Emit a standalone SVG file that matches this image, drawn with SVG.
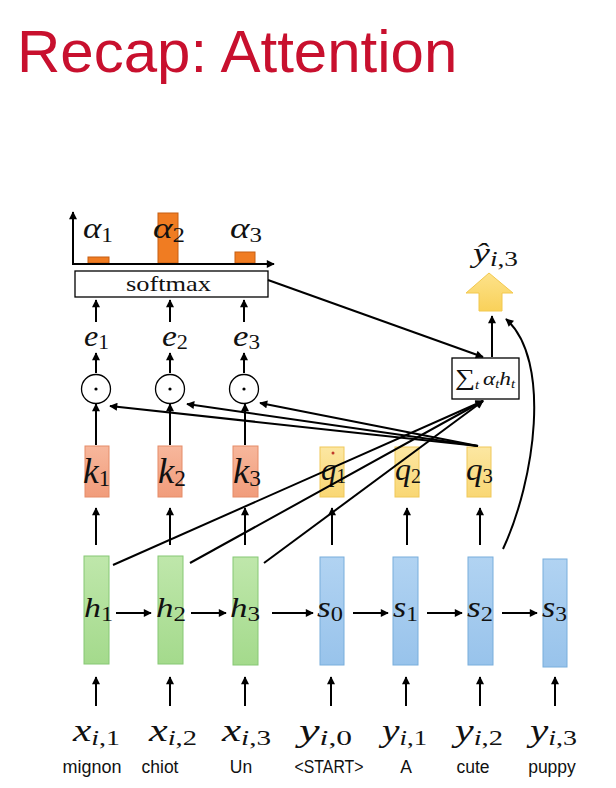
<svg xmlns="http://www.w3.org/2000/svg" width="616" height="788" viewBox="0 0 616 788">
<style>
.m{font-family:"Liberation Serif","DejaVu Serif",serif;font-style:italic;fill:#111}
.up{font-style:normal}
.w{font-family:"Liberation Sans",Arial,sans-serif;font-size:17.5px;fill:#111;text-anchor:middle}
.ln{stroke:#000;stroke-width:2;fill:none}
.ar{stroke:#000;stroke-width:2;fill:none;marker-end:url(#ah)}
.hb{fill:url(#gG);stroke:#86c874;stroke-width:1}
.sb{fill:url(#gB);stroke:#78aedc;stroke-width:1}
.kb{fill:url(#gK);stroke:#e58c68;stroke-width:1}
.qb{fill:url(#gY);stroke:#efc85a;stroke-width:1}
.bar{fill:#f07c22;stroke:#c65e12;stroke-width:1}
.op{fill:#fff;stroke:#000;stroke-width:1.3}
</style>
<defs>
<marker id="ah" viewBox="0 0 10 10" refX="9" refY="5" markerWidth="10" markerHeight="8" markerUnits="userSpaceOnUse" orient="auto"><path d="M0,0 L10,5 L0,10 z" fill="#000"/></marker>
<linearGradient id="gG" x1="0" y1="0" x2="0" y2="1"><stop offset="0" stop-color="#bfe7ab"/><stop offset="1" stop-color="#a4da8c"/></linearGradient>
<linearGradient id="gB" x1="0" y1="0" x2="0" y2="1"><stop offset="0" stop-color="#b1d3f2"/><stop offset="1" stop-color="#98c3eb"/></linearGradient>
<linearGradient id="gK" x1="0" y1="0" x2="0" y2="1"><stop offset="0" stop-color="#f7b79c"/><stop offset="1" stop-color="#f19c7b"/></linearGradient>
<linearGradient id="gY" x1="0" y1="0" x2="0" y2="1"><stop offset="0" stop-color="#fce7a2"/><stop offset="1" stop-color="#f9d774"/></linearGradient>
<linearGradient id="gA" x1="0" y1="0" x2="0" y2="1"><stop offset="0" stop-color="#fde28a"/><stop offset="1" stop-color="#f9d15a"/></linearGradient>
</defs>
<rect width="616" height="788" fill="#fff"/>
<text id="title" x="17" y="72" font-family="Liberation Sans, Arial, sans-serif" font-size="60" fill="#c8102e">Recap: Attention</text>

<g id="alpha-chart">
<rect class="bar" x="88" y="257" width="21" height="6"/>
<rect class="bar" x="158" y="213" width="20" height="50"/>
<rect class="bar" x="235" y="252" width="20" height="11"/>
<line class="ar" x1="73" y1="264" x2="73" y2="212"/>
<line class="ar" x1="72" y1="264" x2="274" y2="264"/>
<text class="m" x="83" y="238" font-size="30" textLength="30" lengthAdjust="spacingAndGlyphs">α<tspan class="up" font-size="20" dy="4">1</tspan></text>
<text class="m" x="153" y="238" font-size="30" textLength="32" lengthAdjust="spacingAndGlyphs">α<tspan class="up" font-size="20" dy="4">2</tspan></text>
<text class="m" x="230" y="238" font-size="30" textLength="32" lengthAdjust="spacingAndGlyphs">α<tspan class="up" font-size="20" dy="4">3</tspan></text>
</g>

<g id="softmax">
<rect x="75" y="271" width="193" height="26" fill="#fff" stroke="#000" stroke-width="1.3"/>
<text x="126" y="291" font-family="Liberation Serif, serif" font-size="22" textLength="85" lengthAdjust="spacingAndGlyphs" fill="#111">softmax</text>
</g>

<g id="e1"><text class="m" x="84" y="346" font-size="30" textLength="25" lengthAdjust="spacingAndGlyphs">e<tspan class="up" font-size="20" dy="3">1</tspan></text></g>
<g id="e2"><text class="m" x="162" y="346" font-size="30" textLength="26" lengthAdjust="spacingAndGlyphs">e<tspan class="up" font-size="20" dy="3">2</tspan></text></g>
<g id="e3"><text class="m" x="233" y="346" font-size="30" textLength="27" lengthAdjust="spacingAndGlyphs">e<tspan class="up" font-size="20" dy="3">3</tspan></text></g>

<g id="dot1"><circle class="op" cx="96" cy="389" r="14.5"/><circle cx="96" cy="389" r="1.6" fill="#000"/></g>
<g id="dot2"><circle class="op" cx="170" cy="389" r="14.5"/><circle cx="170" cy="389" r="1.6" fill="#000"/></g>
<g id="dot3"><circle class="op" cx="244" cy="389" r="14.5"/><circle cx="244" cy="389" r="1.6" fill="#000"/></g>

<g id="k1"><rect class="kb" x="85" y="446" width="24" height="51"/><text class="m" x="83" y="483" font-size="36" textLength="27" lengthAdjust="spacingAndGlyphs">k<tspan class="up" font-size="23" dy="3">1</tspan></text></g>
<g id="k2"><rect class="kb" x="158" y="446" width="24" height="51"/><text class="m" x="158" y="483" font-size="36" textLength="28" lengthAdjust="spacingAndGlyphs">k<tspan class="up" font-size="23" dy="3">2</tspan></text></g>
<g id="k3"><rect class="kb" x="233" y="446" width="25" height="51"/><text class="m" x="233" y="483" font-size="36" textLength="28" lengthAdjust="spacingAndGlyphs">k<tspan class="up" font-size="23" dy="3">3</tspan></text></g>

<g id="q1"><rect class="qb" x="320" y="447" width="24" height="50"/><circle cx="333" cy="453" r="1.5" fill="#c0392b"/><text class="m" x="321" y="480" font-size="32" textLength="25" lengthAdjust="spacingAndGlyphs">q<tspan class="up" font-size="20" dy="3">1</tspan></text></g>
<g id="q2"><rect class="qb" x="395" y="447" width="24" height="50"/><text class="m" x="395" y="480" font-size="32" textLength="26" lengthAdjust="spacingAndGlyphs">q<tspan class="up" font-size="20" dy="3">2</tspan></text></g>
<g id="q3"><rect class="qb" x="467" y="447" width="24" height="50"/><text class="m" x="466" y="480" font-size="32" textLength="27" lengthAdjust="spacingAndGlyphs">q<tspan class="up" font-size="20" dy="3">3</tspan></text></g>

<g id="h1"><rect class="hb" x="84" y="556" width="25" height="108"/><text class="m" x="84" y="617" font-size="28" textLength="29" lengthAdjust="spacingAndGlyphs">h<tspan class="up" font-size="20" dy="4">1</tspan></text></g>
<g id="h2"><rect class="hb" x="158" y="556" width="25" height="108"/><text class="m" x="156" y="617" font-size="28" textLength="30" lengthAdjust="spacingAndGlyphs">h<tspan class="up" font-size="20" dy="4">2</tspan></text></g>
<g id="h3"><rect class="hb" x="233" y="557" width="25" height="108"/><text class="m" x="230" y="617" font-size="28" textLength="30" lengthAdjust="spacingAndGlyphs">h<tspan class="up" font-size="20" dy="4">3</tspan></text></g>

<g id="s0"><rect class="sb" x="320" y="557" width="24" height="108"/><text class="m" x="317" y="617" font-size="29" textLength="26" lengthAdjust="spacingAndGlyphs">s<tspan class="up" font-size="20" dy="4">0</tspan></text></g>
<g id="s1"><rect class="sb" x="393" y="557" width="25" height="108"/><text class="m" x="393" y="617" font-size="29" textLength="25" lengthAdjust="spacingAndGlyphs">s<tspan class="up" font-size="20" dy="4">1</tspan></text></g>
<g id="s2"><rect class="sb" x="468" y="557" width="25" height="108"/><text class="m" x="467" y="617" font-size="29" textLength="26" lengthAdjust="spacingAndGlyphs">s<tspan class="up" font-size="20" dy="4">2</tspan></text></g>
<g id="s3"><rect class="sb" x="543" y="559" width="24" height="108"/><text class="m" x="542" y="617" font-size="29" textLength="25" lengthAdjust="spacingAndGlyphs">s<tspan class="up" font-size="20" dy="4">3</tspan></text></g>

<g id="sum"><rect x="452" y="358" width="67" height="41" fill="#fff" stroke="#000" stroke-width="1.3"/>
<text class="m" x="455" y="385" font-size="19" textLength="60" lengthAdjust="spacingAndGlyphs"><tspan class="up" font-size="23">∑</tspan><tspan font-size="12" dy="4">t</tspan><tspan dx="3" dy="-4">α</tspan><tspan font-size="12" dy="3">t</tspan><tspan dy="-3">h</tspan><tspan font-size="12" dy="3">t</tspan></text></g>

<g id="yhat">
<polygon points="489,273 513,293 502,293 502,311 479,311 479,293 466,293" fill="url(#gA)" stroke="#f2c84e" stroke-width="1"/>
<text class="m" x="473" y="262" font-size="28" textLength="45" lengthAdjust="spacingAndGlyphs">ŷ<tspan font-size="20" dy="4">i</tspan><tspan class="up" font-size="20">,3</tspan></text>
</g>

<g id="inputs">
<text class="m" x="73" y="741" font-size="31" textLength="47" lengthAdjust="spacingAndGlyphs">x<tspan font-size="21" dy="4">i</tspan><tspan class="up" font-size="21">,1</tspan></text>
<text class="m" x="149" y="741" font-size="31" textLength="48" lengthAdjust="spacingAndGlyphs">x<tspan font-size="21" dy="4">i</tspan><tspan class="up" font-size="21">,2</tspan></text>
<text class="m" x="222" y="741" font-size="31" textLength="49" lengthAdjust="spacingAndGlyphs">x<tspan font-size="21" dy="4">i</tspan><tspan class="up" font-size="21">,3</tspan></text>
<text class="m" x="299" y="741" font-size="31" textLength="53" lengthAdjust="spacingAndGlyphs">y<tspan font-size="21" dy="4">i</tspan><tspan class="up" font-size="21">,0</tspan></text>
<text class="m" x="382" y="741" font-size="31" textLength="45" lengthAdjust="spacingAndGlyphs">y<tspan font-size="21" dy="4">i</tspan><tspan class="up" font-size="21">,1</tspan></text>
<text class="m" x="455" y="741" font-size="31" textLength="48" lengthAdjust="spacingAndGlyphs">y<tspan font-size="21" dy="4">i</tspan><tspan class="up" font-size="21">,2</tspan></text>
<text class="m" x="530" y="741" font-size="31" textLength="47" lengthAdjust="spacingAndGlyphs">y<tspan font-size="21" dy="4">i</tspan><tspan class="up" font-size="21">,3</tspan></text>
</g>

<g id="words">
<text class="w" x="92" y="773" textLength="59" lengthAdjust="spacingAndGlyphs">mignon</text>
<text class="w" x="160" y="773">chiot</text>
<text class="w" x="241" y="773">Un</text>
<text class="w" x="329" y="773" textLength="69" lengthAdjust="spacingAndGlyphs">&lt;START&gt;</text>
<text class="w" x="406" y="773">A</text>
<text class="w" x="473" y="773">cute</text>
<text class="w" x="552" y="773">puppy</text>
</g>

<g id="connectors">
<line class="ar" x1="96" y1="706" x2="96" y2="677"/>
<line class="ar" x1="170" y1="706" x2="170" y2="677"/>
<line class="ar" x1="245" y1="706" x2="245" y2="677"/>
<line class="ar" x1="331" y1="706" x2="331" y2="677"/>
<line class="ar" x1="406" y1="706" x2="406" y2="677"/>
<line class="ar" x1="480" y1="706" x2="480" y2="677"/>
<line class="ar" x1="555" y1="706" x2="555" y2="677"/>

<line class="ar" x1="116" y1="613" x2="151" y2="613"/>
<line class="ar" x1="191" y1="613" x2="226" y2="613"/>
<line class="ar" x1="272" y1="613" x2="313" y2="613"/>
<line class="ar" x1="353" y1="613" x2="388" y2="613"/>
<line class="ar" x1="427" y1="613" x2="462" y2="613"/>
<line class="ar" x1="502" y1="613" x2="537" y2="613"/>

<line class="ar" x1="96" y1="545" x2="96" y2="508"/>
<line class="ar" x1="170" y1="545" x2="170" y2="508"/>
<line class="ar" x1="245" y1="545" x2="245" y2="508"/>
<line class="ar" x1="332" y1="545" x2="332" y2="508"/>
<line class="ar" x1="407" y1="545" x2="407" y2="508"/>
<line class="ar" x1="480" y1="545" x2="480" y2="508"/>

<line class="ar" x1="96" y1="445" x2="96" y2="404"/>
<line class="ar" x1="170" y1="445" x2="170" y2="404"/>
<line class="ar" x1="245" y1="445" x2="245" y2="404"/>

<line class="ar" x1="96" y1="373" x2="96" y2="353"/>
<line class="ar" x1="170" y1="373" x2="170" y2="353"/>
<line class="ar" x1="244" y1="373" x2="244" y2="353"/>

<line class="ar" x1="96" y1="322" x2="96" y2="300"/>
<line class="ar" x1="170" y1="322" x2="170" y2="300"/>
<line class="ar" x1="244" y1="322" x2="244" y2="300"/>

<line class="ar" x1="478" y1="446" x2="110" y2="406"/>
<line class="ar" x1="478" y1="446" x2="187" y2="404"/>
<line class="ar" x1="478" y1="446" x2="260" y2="403"/>

<line class="ar" x1="113" y1="565" x2="483" y2="401"/>
<line class="ar" x1="190" y1="563" x2="483" y2="401"/>
<line class="ar" x1="264" y1="563" x2="483" y2="401"/>

<line class="ar" x1="268" y1="280" x2="483" y2="357"/>
<line class="ar" x1="492" y1="357" x2="492" y2="316"/>
<path class="ar" d="M503,549 C535,480 552,360 506,319"/>
</g>
</svg>
